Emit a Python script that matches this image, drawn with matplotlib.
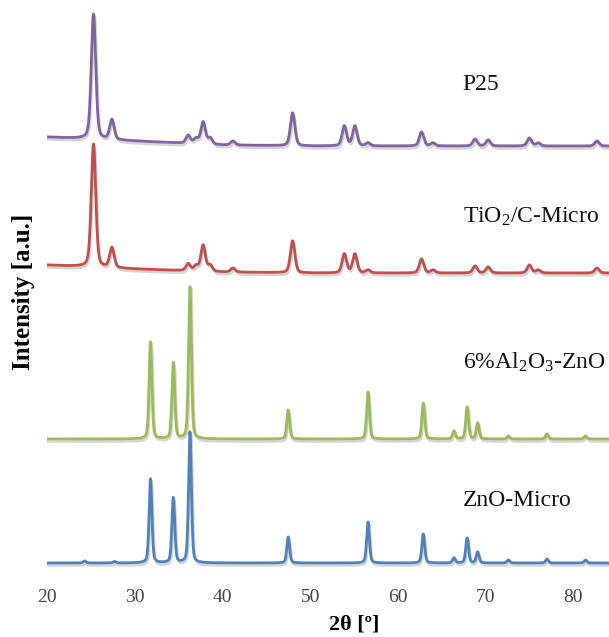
import numpy as np
import matplotlib
matplotlib.use("Agg")
import matplotlib.pyplot as plt
import matplotlib.patheffects as pe

plt.rcParams['font.family'] = ['Liberation Serif', 'DejaVu Serif']
plt.rcParams['mathtext.fontset'] = 'custom'
plt.rcParams['mathtext.rm'] = 'Liberation Serif'
plt.rcParams['mathtext.it'] = 'Liberation Serif:italic'
plt.rcParams['mathtext.bf'] = 'Liberation Serif:bold'

# peak positions (2theta, deg) and heights (a.u.)
tio2_pos = [25.3, 27.4, 36.1, 37.0, 37.8, 38.6, 41.2, 48.0, 53.9, 55.1, 56.6,
            62.7, 64.0, 68.8, 70.3, 75.0, 76.0, 82.7]
p25_h = [125, 20, 8, 5, 22, 6, 4, 33, 20, 20, 3, 14, 3, 7, 6, 8, 3, 5]
tio2c_h = [123, 20, 7, 5, 26, 6, 4, 32, 19, 19, 3, 14, 3, 7, 6, 8, 3, 5]

zno_pos = [24.3, 27.7, 31.8, 34.4, 36.3, 47.5, 56.6, 62.9, 66.4, 67.9, 69.1,
           72.6, 77.0, 81.4]
al_zno_h = [0, 0, 97, 76, 152, 29, 47, 36, 8, 32, 16, 3, 5, 3]
zno_h = [2, 1.5, 84, 65, 131, 26, 41, 29, 5, 25, 11, 3, 4, 3]

# background (relative to each baseline) and vertical offsets of the stack
bg_theta = [20, 30, 40, 50, 90]
p25_bg = [9, 5, 1, 0, 0]
tio2c_bg = [8, 4, 1, 0, 0]
flat_bg = [0, 0, 0, 0, 0]
offsets = [429, 302, 136, 12]

names = ['P25', 'TiO$_2$/C-Micro', '6%Al$_2$O$_3$-ZnO', 'ZnO-Micro']
colors = ['#8064A2', '#C0504D', '#9BBB59', '#4F81BD']


def pattern(x, pos, heights, fwhm, bg):
    y = np.interp(x, bg_theta, bg)
    for p, h in zip(pos, heights):
        d = (x - p) / (fwhm / 2)
        y = y + h * (0.35 / (1 + d ** 2) + 0.65 * np.exp(-np.log(2) * d ** 2))
    return y


tt = np.arange(20, 90.001, 0.02)
curves = [
    pattern(tt, tio2_pos, p25_h, 0.6, p25_bg),
    pattern(tt, tio2_pos, tio2c_h, 0.6, tio2c_bg),
    pattern(tt, zno_pos, al_zno_h, 0.38, flat_bg),
    pattern(tt, zno_pos, zno_h, 0.38, flat_bg),
]

fig = plt.figure(figsize=(6.09, 6.37), dpi=100)
ax = fig.add_axes([47 / 609, 1 - 575 / 637, 614 / 609, 575 / 637])

shadow = [pe.SimpleLineShadow(offset=(0.8, -1.8), shadow_color='#888888', alpha=0.35),
          pe.Normal()]
for y, off, c in zip(curves, offsets, colors):
    ax.plot(tt, y + off, color=c, lw=2.0, path_effects=shadow)

label_y = [491, 358, 213, 75]
for name, ly in zip(names, label_y):
    ax.text(67.4, ly, name, fontsize=17, va='center', ha='left', color='#111111')

ax.set_xlim(20, 90)
ax.set_ylim(0, 575)
ax.set_xticks([20, 30, 40, 50, 60, 70, 80])
ax.tick_params(axis='x', length=0, pad=10, labelsize=14, labelcolor='#444444')
ax.set_yticks([])
for s in ax.spines.values():
    s.set_visible(False)

ax.set_xlabel('2θ [º]', fontsize=16, fontweight='bold', labelpad=6)
fig.text(24 / 609, 1 - 292 / 637, 'Intensity [a.u.]', rotation=90, fontsize=18,
         fontweight='bold', ha='center', va='center')

fig.savefig('out.png', dpi=100)
